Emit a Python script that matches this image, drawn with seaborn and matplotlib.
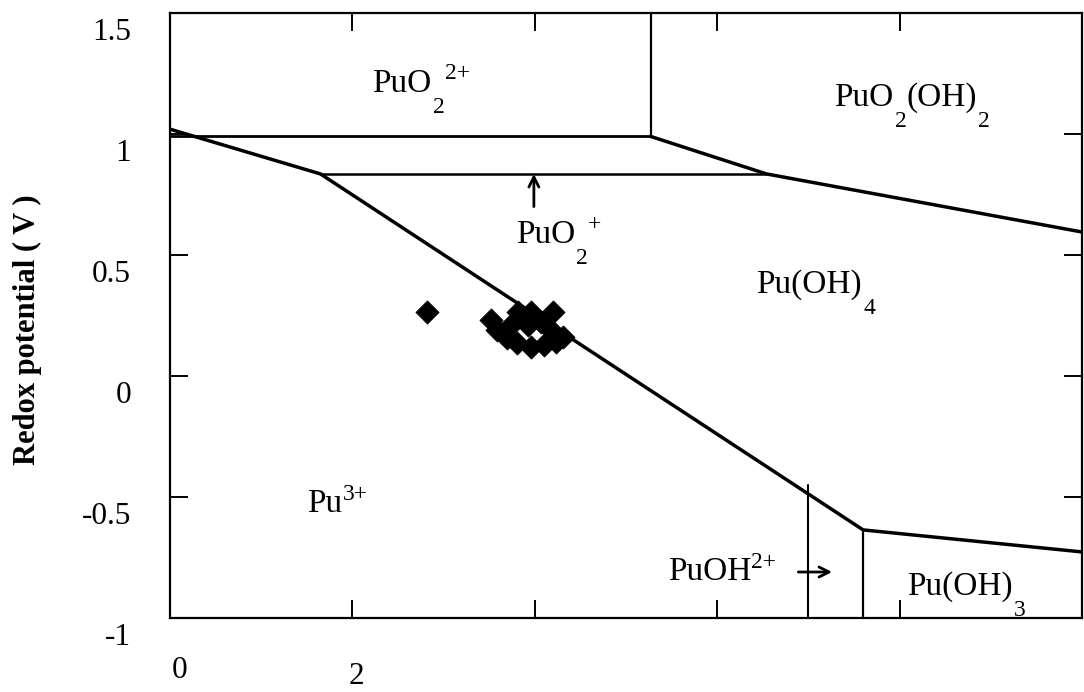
import matplotlib
matplotlib.use("Agg")
import matplotlib.pyplot as plt
import matplotlib.transforms as mtransforms
import pandas as pd
import seaborn as sns

# ---- Stability-field boundaries of plutonium species (pH, Eh in V) ----
pu3_boundary_ph = [0.0, 1.65, 7.6, 10.0]
pu3_boundary_e = [1.02, 0.835, -0.636, -0.727]

puo2_2p_lower_ph = [0.0, 5.27]
puo2_2p_lower_e = [0.99, 0.99]

puo2_2p_right_ph = [5.27, 5.27]
puo2_2p_right_e = [0.99, 1.5]

puo2oh2_lower_ph = [5.27, 6.54, 10.0]
puo2oh2_lower_e = [0.99, 0.835, 0.595]

puo2_p_lower_ph = [1.65, 6.54]
puo2_p_lower_e = [0.835, 0.835]

puoh_left_ph = [7.0, 7.0]
puoh_left_e = [-1.0, -0.45]

puoh3_left_ph = [7.6, 7.6]
puoh3_left_e = [-1.0, -0.636]

# ---- Measured groundwater samples ----
sample_ph = [2.82, 3.52, 3.59, 3.70, 3.81, 3.96, 4.10, 4.23, 4.31,
             3.82, 3.96, 4.20, 4.07, 3.92, 4.18, 3.74]
sample_e = [0.264, 0.231, 0.190, 0.157, 0.136, 0.120, 0.128, 0.140, 0.161,
            0.264, 0.264, 0.264, 0.223, 0.211, 0.190, 0.211]

# ---- Axis ticks ----
y_ticks = [-1.0, -0.5, 0.0, 0.5, 1.0, 1.5]
y_tick_labels = ["-1", "-0.5", "0", "0.5", "1", "1.5"]
x_ticks = [0, 2, 4, 6, 8, 10]
x_tick_labels = ["0", "2", "", "", "", ""]

sns.set_theme(style="white")
plt.rcParams["font.family"] = ["Liberation Serif", "DejaVu Serif"]
plt.rcParams["text.color"] = "black"
plt.rcParams["axes.labelcolor"] = "black"

fig = plt.figure(figsize=(10.84, 6.92), dpi=100)
ax = fig.add_axes([170 / 1084, 1 - 618 / 692, 912 / 1084, 605 / 692])

boundaries = [
    (pu3_boundary_ph, pu3_boundary_e, 2.5),
    (puo2_2p_lower_ph, puo2_2p_lower_e, 2.0),
    (puo2_2p_right_ph, puo2_2p_right_e, 1.6),
    (puo2oh2_lower_ph, puo2oh2_lower_e, 2.5),
    (puo2_p_lower_ph, puo2_p_lower_e, 1.8),
    (puoh_left_ph, puoh_left_e, 1.5),
    (puoh3_left_ph, puoh3_left_e, 1.6),
]
for xs, ys, lw in boundaries:
    sns.lineplot(x=xs, y=ys, ax=ax, color="black", linewidth=lw,
                 sort=False, estimator=None)

samples = pd.DataFrame({"pH": sample_ph, "Eh": sample_e})
sns.scatterplot(data=samples, x="pH", y="Eh", ax=ax, marker="D", s=140,
                color="black", edgecolor="black", linewidth=0.5, zorder=5)

ax.set_xlim(0, 10)
ax.set_ylim(-1, 1.5)
ax.set_xlabel("")
ax.set_ylabel("Redox potential ( V )", fontsize=22, fontweight="bold",
              color="black")
ax.yaxis.set_label_coords(-0.140, 0.476)

for side in ["left", "right", "top", "bottom"]:
    ax.spines[side].set_visible(True)
    ax.spines[side].set_color("black")
    ax.spines[side].set_linewidth(1.6)

ax.set_yticks(y_ticks)
ax.set_yticklabels(y_tick_labels)
ax.set_xticks(x_ticks)
ax.set_xticklabels(x_tick_labels)
ax.tick_params(axis="both", direction="in", length=13, width=1.4,
               color="black", labelsize=22.5, labelcolor="black",
               top=True, right=True, left=True, bottom=True)
ax.tick_params(axis="y", pad=28)
ax.tick_params(axis="x", pad=27)

# tick labels sit a little below their ticks
dpi_t = fig.dpi_scale_trans
for lab in ax.get_yticklabels():
    lab.set_transform(lab.get_transform() +
                      mtransforms.ScaledTranslation(0, -0.16, dpi_t))
xlabs = ax.get_xticklabels()
xlabs[0].set_transform(xlabs[0].get_transform() +
                       mtransforms.ScaledTranslation(0.10, 0, dpi_t))
xlabs[1].set_transform(xlabs[1].get_transform() +
                       mtransforms.ScaledTranslation(0.04, -0.06, dpi_t))


def chem_label(x, y, pieces, size=24, small=17):
    """Write a formula piece by piece: normal text, subscripts, superscripts."""
    txt, _ = pieces[0]
    prev = ax.text(x, y, txt, fontsize=size, ha="left", va="baseline",
                   color="black")
    for txt, kind in pieces[1:]:
        dy = {"n": 0, "sub": -15, "sup": 9}[kind]
        dx = {"n": 0, "sub": 1, "sup": 0}[kind]
        fs = size if kind == "n" else small
        prev = ax.annotate(txt, xy=(1, y), xycoords=(prev, "data"),
                           xytext=(dx, dy), textcoords="offset points",
                           fontsize=fs, ha="left", va="baseline",
                           color="black")


chem_label(2.22, 1.174, [("PuO", "n"), ("2", "sub"), ("2+", "sup")])
chem_label(7.28, 1.116, [("PuO", "n"), ("2", "sub"), ("(OH)", "n"), ("2", "sub")])
chem_label(3.79, 0.55, [("PuO", "n"), ("2", "sub"), ("+", "sup")])
chem_label(6.43, 0.343, [("Pu(OH)", "n"), ("4", "sub")])
chem_label(1.505, -0.562, [("Pu", "n"), ("3+", "sup")])
chem_label(5.46, -0.843, [("PuOH", "n"), ("2+", "sup")])
chem_label(8.08, -0.905, [("Pu(OH)", "n"), ("3", "sub")])

# arrows pointing to the narrow PuO2+ and PuOH2+ fields
arrow_style = dict(arrowstyle="->", color="black", lw=2.0,
                   mutation_scale=18, shrinkA=0, shrinkB=0)
ax.annotate("", xy=(3.99, 0.835), xytext=(3.99, 0.70), arrowprops=arrow_style)
ax.annotate("", xy=(7.26, -0.81), xytext=(6.89, -0.81), arrowprops=arrow_style)

fig.savefig("out.png", dpi=100, facecolor="white")
